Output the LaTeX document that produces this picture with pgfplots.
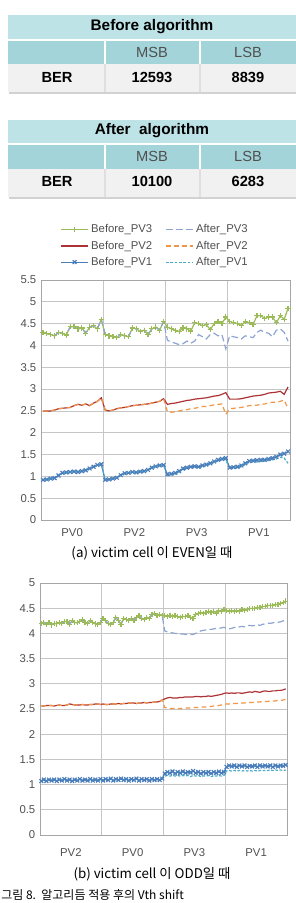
\documentclass[border=0pt]{standalone}
\usepackage{fontspec}
\setmainfont{Liberation Sans}
\newfontfamily\kr{Noto Sans CJK KR}
\usepackage{pgfplots}
\usepackage{pgfplotstable}
\pgfplotsset{compat=1.18}
\definecolor{hdr}{RGB}{190,227,231}
\definecolor{rowtwo}{RGB}{163,212,217}
\definecolor{rowg}{RGB}{241,241,241}
\definecolor{cB3}{RGB}{155,187,89}
\definecolor{cA3}{RGB}{142,165,211}
\definecolor{cB2}{RGB}{172,50,54}
\definecolor{cA2}{RGB}{240,150,70}
\definecolor{cB1}{RGB}{74,126,187}
\definecolor{cA1}{RGB}{75,172,198}
\definecolor{tk}{RGB}{80,80,80}

% chart (a): six series, 16 points per group (PV0, PV2, PV3, PV1)
\pgfplotstableread{
b3 a3 b2 a2 b1 a1
4.30 4.30 2.50 2.50 0.92 0.92
4.27 4.27 2.50 2.50 0.93 0.93
4.25 4.25 2.50 2.50 0.95 0.95
4.22 4.22 2.52 2.52 0.96 0.96
4.30 4.30 2.55 2.55 1.02 1.02
4.28 4.28 2.56 2.56 1.08 1.08
4.24 4.24 2.57 2.57 1.09 1.09
4.43 4.43 2.58 2.58 1.10 1.10
4.43 4.43 2.62 2.62 1.11 1.11
4.38 4.38 2.65 2.65 1.10 1.10
4.40 4.40 2.63 2.63 1.12 1.12
4.28 4.28 2.66 2.66 1.14 1.14
4.42 4.42 2.62 2.62 1.18 1.18
4.45 4.45 2.68 2.68 1.22 1.22
4.38 4.38 2.72 2.72 1.26 1.26
4.60 4.60 2.80 2.80 1.28 1.28
4.25 4.25 2.52 2.52 0.92 0.92
4.22 4.22 2.50 2.50 0.93 0.93
4.20 4.20 2.52 2.52 0.95 0.95
4.18 4.18 2.55 2.55 0.97 0.97
4.25 4.25 2.57 2.57 1.03 1.03
4.22 4.22 2.58 2.58 1.07 1.07
4.20 4.20 2.60 2.60 1.08 1.08
4.40 4.40 2.62 2.62 1.10 1.10
4.38 4.38 2.63 2.63 1.09 1.09
4.32 4.32 2.64 2.64 1.11 1.11
4.35 4.35 2.65 2.65 1.12 1.12
4.25 4.25 2.66 2.66 1.15 1.15
4.38 4.38 2.68 2.68 1.20 1.20
4.42 4.42 2.70 2.70 1.23 1.23
4.35 4.35 2.72 2.72 1.25 1.25
4.55 4.55 2.78 2.78 1.26 1.26
4.42 4.12 2.65 2.48 1.05 1.02
4.38 4.08 2.67 2.47 1.06 1.03
4.35 4.05 2.68 2.48 1.08 1.05
4.32 4.02 2.70 2.50 1.12 1.10
4.40 4.04 2.72 2.52 1.18 1.15
4.38 4.10 2.74 2.53 1.20 1.18
4.33 4.05 2.75 2.55 1.22 1.20
4.52 4.10 2.77 2.56 1.23 1.20
4.50 4.25 2.78 2.58 1.22 1.20
4.45 4.20 2.79 2.60 1.25 1.22
4.48 4.15 2.80 2.60 1.27 1.25
4.36 4.25 2.82 2.62 1.30 1.28
4.50 4.28 2.84 2.64 1.34 1.32
4.55 4.22 2.85 2.65 1.38 1.35
4.50 4.25 2.88 2.66 1.40 1.38
4.65 3.92 2.92 2.42 1.42 1.38
4.55 4.22 2.77 2.55 1.20 1.18
4.52 4.20 2.77 2.56 1.21 1.19
4.50 4.18 2.77 2.57 1.22 1.20
4.46 4.15 2.78 2.58 1.25 1.22
4.55 4.22 2.80 2.60 1.30 1.27
4.52 4.20 2.82 2.62 1.35 1.32
4.48 4.18 2.84 2.63 1.36 1.33
4.68 4.30 2.85 2.63 1.37 1.33
4.68 4.35 2.86 2.65 1.38 1.34
4.62 4.30 2.88 2.66 1.38 1.35
4.65 4.28 2.91 2.68 1.40 1.36
4.65 4.20 2.92 2.70 1.42 1.38
4.52 4.35 2.93 2.70 1.45 1.40
4.68 4.38 2.95 2.72 1.50 1.44
4.60 4.30 2.88 2.75 1.52 1.42
4.85 4.10 3.05 2.55 1.57 1.30
}\dataA

% chart (b): 24 points per group (PV2, PV0, PV3, PV1)
\pgfplotstableread{
b3 a3 b2 a2 b1 a1
4.20 4.20 2.56 2.56 1.07 1.07
4.22 4.22 2.56 2.56 1.10 1.10
4.18 4.18 2.57 2.57 1.07 1.07
4.21 4.21 2.57 2.57 1.10 1.10
4.17 4.17 2.57 2.57 1.08 1.08
4.20 4.20 2.56 2.56 1.10 1.10
4.19 4.19 2.57 2.57 1.07 1.07
4.22 4.22 2.58 2.58 1.10 1.10
4.20 4.20 2.57 2.57 1.08 1.08
4.24 4.24 2.57 2.57 1.11 1.11
4.23 4.23 2.58 2.58 1.08 1.08
4.18 4.18 2.60 2.60 1.10 1.10
4.25 4.25 2.59 2.59 1.07 1.07
4.22 4.22 2.58 2.58 1.10 1.10
4.21 4.21 2.58 2.58 1.08 1.08
4.24 4.24 2.58 2.58 1.11 1.11
4.27 4.27 2.59 2.59 1.08 1.08
4.22 4.22 2.58 2.58 1.10 1.10
4.20 4.20 2.58 2.58 1.08 1.08
4.25 4.25 2.59 2.59 1.11 1.11
4.22 4.22 2.59 2.59 1.08 1.08
4.19 4.19 2.60 2.60 1.10 1.10
4.18 4.18 2.60 2.60 1.08 1.08
4.22 4.22 2.59 2.59 1.11 1.11
4.30 4.30 2.60 2.60 1.08 1.08
4.25 4.25 2.59 2.59 1.11 1.11
4.20 4.20 2.59 2.59 1.09 1.09
4.18 4.18 2.60 2.60 1.12 1.12
4.22 4.22 2.60 2.60 1.08 1.08
4.32 4.32 2.60 2.60 1.11 1.11
4.25 4.25 2.61 2.61 1.09 1.09
4.18 4.18 2.60 2.60 1.12 1.12
4.30 4.30 2.61 2.61 1.09 1.09
4.28 4.28 2.61 2.61 1.11 1.11
4.26 4.26 2.62 2.62 1.08 1.08
4.30 4.30 2.62 2.62 1.11 1.11
4.25 4.25 2.62 2.62 1.09 1.09
4.32 4.32 2.61 2.61 1.12 1.12
4.35 4.35 2.62 2.62 1.08 1.08
4.30 4.30 2.62 2.62 1.11 1.11
4.28 4.28 2.63 2.63 1.09 1.09
4.32 4.32 2.62 2.62 1.11 1.11
4.30 4.30 2.63 2.63 1.08 1.08
4.38 4.38 2.63 2.63 1.11 1.11
4.40 4.40 2.64 2.64 1.09 1.09
4.36 4.36 2.64 2.64 1.11 1.11
4.38 4.38 2.65 2.65 1.09 1.09
4.35 4.35 2.68 2.68 1.12 1.12
4.35 4.05 2.70 2.53 1.22 1.17
4.34 4.03 2.72 2.52 1.25 1.18
4.36 4.02 2.73 2.51 1.23 1.17
4.33 4.01 2.72 2.51 1.26 1.18
4.35 4.00 2.72 2.51 1.22 1.17
4.33 4.00 2.72 2.50 1.25 1.18
4.32 3.99 2.73 2.51 1.23 1.17
4.34 3.99 2.73 2.51 1.26 1.18
4.33 3.98 2.74 2.52 1.23 1.17
4.35 3.98 2.74 2.52 1.25 1.18
4.32 3.98 2.74 2.52 1.24 1.16
4.30 3.98 2.74 2.53 1.27 1.18
4.38 4.00 2.75 2.53 1.23 1.17
4.40 4.03 2.75 2.53 1.25 1.18
4.42 4.05 2.74 2.54 1.22 1.16
4.40 4.06 2.75 2.54 1.25 1.17
4.41 4.07 2.75 2.54 1.23 1.17
4.43 4.08 2.76 2.55 1.25 1.18
4.42 4.08 2.75 2.55 1.22 1.16
4.44 4.09 2.76 2.56 1.25 1.17
4.40 4.10 2.77 2.56 1.23 1.17
4.45 4.10 2.78 2.57 1.26 1.18
4.43 4.11 2.79 2.58 1.23 1.17
4.48 4.12 2.81 2.60 1.25 1.18
4.46 4.10 2.82 2.60 1.35 1.27
4.44 4.09 2.81 2.60 1.38 1.28
4.45 4.10 2.82 2.61 1.36 1.27
4.43 4.12 2.81 2.61 1.38 1.28
4.45 4.11 2.82 2.61 1.35 1.27
4.44 4.13 2.82 2.62 1.38 1.28
4.47 4.14 2.81 2.62 1.36 1.27
4.46 4.13 2.82 2.62 1.38 1.28
4.48 4.15 2.83 2.63 1.35 1.27
4.49 4.16 2.84 2.63 1.37 1.28
4.50 4.15 2.83 2.63 1.36 1.27
4.49 4.16 2.85 2.64 1.38 1.28
4.52 4.17 2.84 2.64 1.35 1.27
4.51 4.16 2.83 2.64 1.38 1.28
4.53 4.18 2.85 2.65 1.36 1.28
4.54 4.19 2.86 2.65 1.38 1.28
4.55 4.20 2.85 2.65 1.36 1.28
4.56 4.20 2.85 2.66 1.38 1.29
4.55 4.21 2.86 2.66 1.35 1.28
4.57 4.22 2.86 2.66 1.38 1.29
4.58 4.22 2.87 2.67 1.36 1.28
4.60 4.23 2.87 2.67 1.38 1.29
4.61 4.25 2.88 2.68 1.37 1.28
4.64 4.26 2.90 2.69 1.39 1.29
}\dataB

\pgfplotsset{
  vth/.style={
    scale only axis, anchor=south west,
    xmin=0, ymin=0,
    axis line style={draw=gray!70},
    major tick length=0pt,
    ymajorgrids, xmajorgrids,
    grid style={draw=gray!45, line width=0.5pt},
    tick label style={font=\fontsize{8.5}{10}\selectfont, text=tk},
    /pgf/number format/assume math mode=true,
    extra x tick style={grid=none, major tick length=0pt},
    xticklabels={},
    legend image code/.code={\draw[mark repeat=2,mark phase=2] plot coordinates {(0cm,0cm) (0.35cm,0cm) (0.7cm,0cm)};},
  },
  sB3/.style={cB3, line width=0.9pt, mark=+, mark size=2pt, mark options={solid, line width=0.9pt}},
  sA3/.style={cA3, line width=0.9pt, dash pattern=on 5pt off 2.5pt},
  sB2/.style={cB2, line width=0.9pt},
  sA2/.style={cA2, line width=0.9pt, dash pattern=on 3.5pt off 2.5pt},
  sB1/.style={cB1, line width=0.9pt, mark=x, mark size=2pt, mark options={solid, line width=0.85pt}},
  sA1/.style={cA1, line width=0.9pt, dash pattern=on 2pt off 1.2pt},
}

\begin{document}
\begin{tikzpicture}
\path[use as bounding box] (0,0) rectangle (222pt,-677.25pt);
\begin{scope}[x=0.75pt,y=-0.75pt]
  % table 1
  \fill[gray!35] (9,66) rectangle (297,94);
  \fill[hdr] (8,15) rectangle (296,38.5);
  \fill[rowtwo] (8,40.5) rectangle (296,64);
  \fill[rowg] (8,64) rectangle (296,92);
  \draw[white, line width=0.8pt] (105,40.5)--(105,64) (200,40.5)--(200,64);
  \draw[gray!25, line width=0.8pt] (105,64)--(105,92) (200,64)--(200,92);
  \node[font=\bfseries\fontsize{11.5}{13}\selectfont] at (152,27) {Before algorithm};
  \node[font=\fontsize{11}{13}\selectfont, text=tk] at (152,52) {MSB};
  \node[font=\fontsize{11}{13}\selectfont, text=tk] at (248,52) {LSB};
  \node[font=\bfseries\fontsize{11}{13}\selectfont] at (57,77) {BER};
  \node[font=\bfseries\fontsize{11}{13}\selectfont] at (152,77) {12593};
  \node[font=\bfseries\fontsize{11}{13}\selectfont] at (248,77) {8839};
  % table 2
  \fill[gray!35] (9,171) rectangle (297,199);
  \fill[hdr] (8,119.5) rectangle (296,143);
  \fill[rowtwo] (8,145) rectangle (296,169);
  \fill[rowg] (8,169) rectangle (296,197);
  \draw[white, line width=0.8pt] (105,145)--(105,169) (200,145)--(200,169);
  \draw[gray!25, line width=0.8pt] (105,169)--(105,197) (200,169)--(200,197);
  \node[font=\bfseries\fontsize{11.5}{13}\selectfont] at (152,131) {After\ \ algorithm};
  \node[font=\fontsize{11}{13}\selectfont, text=tk] at (152,156) {MSB};
  \node[font=\fontsize{11}{13}\selectfont, text=tk] at (248,156) {LSB};
  \node[font=\bfseries\fontsize{11}{13}\selectfont] at (57,181) {BER};
  \node[font=\bfseries\fontsize{11}{13}\selectfont] at (152,181) {10100};
  \node[font=\bfseries\fontsize{11}{13}\selectfont] at (248,181) {6283};
  % captions
  \node[font=\kr\fontsize{10}{11}\selectfont] at (152,553) {(a) victim cell 이 EVEN일 때};
  \node[font=\kr\fontsize{10}{11}\selectfont] at (152,874) {(b) victim cell 이 ODD일 때};
  \node[font=\kr\fontsize{9}{10}\selectfont, anchor=west, inner sep=0pt] at (1,895) {그림 8.\ \ 알고리듬 적용 후의 Vth shift};
\end{scope}

\begin{axis}[vth,
  at={(30.75pt,-390pt)}, width=186.75pt, height=180pt,
  xmax=64, ymax=5.5, ytick={0,0.5,...,5.5},
  xtick={16,32,48},
  extra x ticks={8,24,40,56}, extra x tick labels={PV0,PV2,PV3,PV1},
  extra x tick style={tick label style={yshift=-3pt}},
  legend columns=2,
  legend style={at={(0.46,1.03)}, anchor=south, draw=none, fill=none,
    font=\fontsize{8.5}{10}\selectfont, text=tk, row sep=0.5pt,
    /tikz/every even column/.append style={column sep=8pt}},
  legend cell align=left,
]
\addplot[sB3] table[x expr=\coordindex+0.5, y=b3] {\dataA};
\addlegendentry{Before\_PV3}
\addplot[sA3] table[x expr=\coordindex+0.5, y=a3] {\dataA};
\addlegendentry{After\_PV3}
\addplot[sB2] table[x expr=\coordindex+0.5, y=b2] {\dataA};
\addlegendentry{Before\_PV2}
\addplot[sA2] table[x expr=\coordindex+0.5, y=a2] {\dataA};
\addlegendentry{After\_PV2}
\addplot[sB1] table[x expr=\coordindex+0.5, y=b1] {\dataA};
\addlegendentry{Before\_PV1}
\addplot[sA1] table[x expr=\coordindex+0.5, y=a1] {\dataA};
\addlegendentry{After\_PV1}
\end{axis}

\begin{axis}[vth,
  at={(30pt,-626.25pt)}, width=185.25pt, height=189pt,
  xmax=96, ymax=5, ytick={0,0.5,...,5},
  xtick={24,48,72},
  extra x ticks={12,36,60,84}, extra x tick labels={PV2,PV0,PV3,PV1},
  extra x tick style={tick label style={yshift=-7pt}},
]
\addplot[sB3] table[x expr=\coordindex+0.5, y=b3] {\dataB};
\addplot[sA3] table[x expr=\coordindex+0.5, y=a3] {\dataB};
\addplot[sB2] table[x expr=\coordindex+0.5, y=b2] {\dataB};
\addplot[sA2] table[x expr=\coordindex+0.5, y=a2] {\dataB};
\addplot[sB1] table[x expr=\coordindex+0.5, y=b1] {\dataB};
\addplot[sA1] table[x expr=\coordindex+0.5, y=a1] {\dataB};
\end{axis}
\end{tikzpicture}
\end{document}
